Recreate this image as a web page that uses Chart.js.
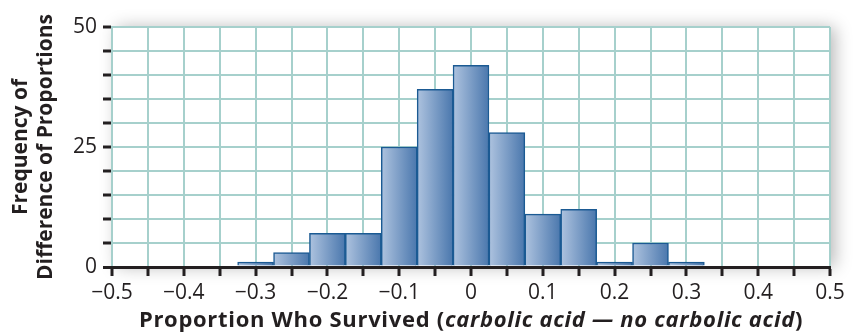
<!DOCTYPE html>
<html>
<head>
<meta charset="utf-8">
<script src="https://cdn.jsdelivr.net/npm/chart.js@4"></script>
<style>
  html, body { margin: 0; padding: 0; background: #fff; }
  #wrap { width: 856px; height: 334px; }
</style>
</head>
<body>
<div id="wrap"><canvas id="histChart" width="856" height="334"></canvas></div>
<script>
// bin centres (difference of proportions) and counts
var binCenters = [-0.30, -0.25, -0.20, -0.15, -0.10, -0.05, 0.00, 0.05, 0.10, 0.15, 0.20, 0.25, 0.30];
var binCounts  = [1, 3, 7, 7, 25, 37, 42, 28, 11, 12, 1, 5, 1];
var yLabelValues = [0, 25, 50];
var yTitleLines = ["Frequency of", "Difference of Proportions"];
var xTitleParts = [
  { text: "Proportion Who Survived (", italic: false },
  { text: "carbolic acid \u2014 no carbolic acid", italic: true },
  { text: ")", italic: false }
];

var FONT = "'Open Sans', 'DejaVu Sans', sans-serif";
var GRID = "#a6d0cc";
var INK = "#231f20";

function fmtX(v) {
  var n = Math.round(v * 100);
  if (n % 10 !== 0) return "";
  if (n === 0) return "0";
  var s = (Math.abs(n) / 100).toFixed(1);
  return n < 0 ? "\u2212" + s : s;
}

// soft drop shadow behind the plotting area
var panelShadow = {
  id: "panelShadow",
  beforeDraw: function (chart) {
    var a = chart.chartArea, ctx = chart.ctx;
    ctx.save();
    ctx.shadowColor = "rgba(0,0,0,0.28)";
    ctx.shadowBlur = 16;
    ctx.shadowOffsetX = 5;
    ctx.shadowOffsetY = 0;
    ctx.fillStyle = "#fff";
    ctx.fillRect(a.left, a.top, a.right - a.left, a.bottom - a.top);
    ctx.restore();
  }
};

// axis titles (mixed bold / bold italic on the x title)
var axisTitles = {
  id: "axisTitles",
  afterDraw: function (chart) {
    var ctx = chart.ctx, a = chart.chartArea;
    ctx.save();
    ctx.fillStyle = INK;
    ctx.textBaseline = "middle";

    // x title
    var size = 22;
    ctx.letterSpacing = "0.7px";
    var total = 0, widths = [];
    xTitleParts.forEach(function (p) {
      ctx.font = (p.italic ? "italic " : "") + "bold " + size + "px " + FONT;
      var w = ctx.measureText(p.text).width;
      widths.push(w); total += w;
    });
    var x = (a.left + a.right) / 2 - total / 2;
    ctx.textAlign = "left";
    xTitleParts.forEach(function (p, i) {
      ctx.font = (p.italic ? "italic " : "") + "bold " + size + "px " + FONT;
      ctx.fillText(p.text, x, 321);
      x += widths[i];
    });
    ctx.letterSpacing = "0px";

    // y title, rotated
    ctx.translate(0, (a.top + a.bottom) / 2);
    ctx.rotate(-Math.PI / 2);
    ctx.textAlign = "center";
    ctx.font = "bold 21px " + FONT;
    ctx.fillText(yTitleLines[0], 0, 21);
    ctx.fillText(yTitleLines[1], 0, 46);
    ctx.restore();
  }
};

// left-to-right shading across each bar
function barGradient(context) {
  var chart = context.chart, xs = chart.scales.x;
  var raw = context.raw;
  if (!xs || !raw) return "#7b9cc6";
  var l = xs.getPixelForValue(raw.x - 0.025);
  var r = xs.getPixelForValue(raw.x + 0.025);
  if (!isFinite(l) || !isFinite(r) || l === r) return "#7b9cc6";
  var g = chart.ctx.createLinearGradient(l, 0, r, 0);
  g.addColorStop(0, "#aec3df");
  g.addColorStop(1, "#4a77ad");
  return g;
}

var ctx = document.getElementById("histChart").getContext("2d");
var histChart = new Chart(ctx, {
  type: "bar",
  data: {
    datasets: [{
      label: "Frequency",
      data: binCenters.map(function (c, i) { return { x: c, y: binCounts[i] }; }),
      barPercentage: 1,
      categoryPercentage: 1,
      borderColor: "#1b5a93",
      borderWidth: 1.5,
      borderSkipped: "bottom",
      backgroundColor: barGradient
    }]
  },
  options: {
    responsive: false,
    animation: false,
    layout: { padding: { top: 27, right: 26, left: 0, bottom: 0 } },
    plugins: {
      legend: { display: false },
      tooltip: { enabled: false }
    },
    scales: {
      x: {
        type: "linear",
        min: -0.5,
        max: 0.5,
        offset: false,
        afterFit: function (s) { s.height = 67; s.paddingLeft = 0; s.paddingRight = 0; },
        ticks: {
          stepSize: 0.05,
          autoSkip: false,
          maxRotation: 0,
          padding: 4,
          color: INK,
          font: { family: FONT, size: 21 },
          callback: function (v) { return fmtX(v); }
        },
        grid: {
          offset: false,
          color: GRID,
          lineWidth: 2,
          drawTicks: true,
          tickLength: 9,
          tickColor: INK,
          tickWidth: 3
        },
        border: { display: true, color: INK, width: 3, z: 1 }
      },
      y: {
        min: 0,
        max: 50,
        afterFit: function (s) { s.width = 112; s.paddingTop = 0; s.paddingBottom = 0; },
        ticks: {
          stepSize: 5,
          autoSkip: false,
          padding: 6,
          color: INK,
          font: { family: FONT, size: 21 },
          callback: function (v) { return yLabelValues.indexOf(v) >= 0 ? String(v) : ""; }
        },
        grid: {
          color: function (c) { return c.tick && c.tick.value === 0 ? INK : GRID; },
          lineWidth: function (c) { return c.tick && c.tick.value === 0 ? 3 : 2; },
          drawTicks: true,
          tickLength: 9,
          tickColor: INK,
          tickWidth: 3
        },
        border: { display: true, color: GRID, width: 2 }
      }
    }
  },
  plugins: [panelShadow, axisTitles]
});
</script>
</body>
</html>
